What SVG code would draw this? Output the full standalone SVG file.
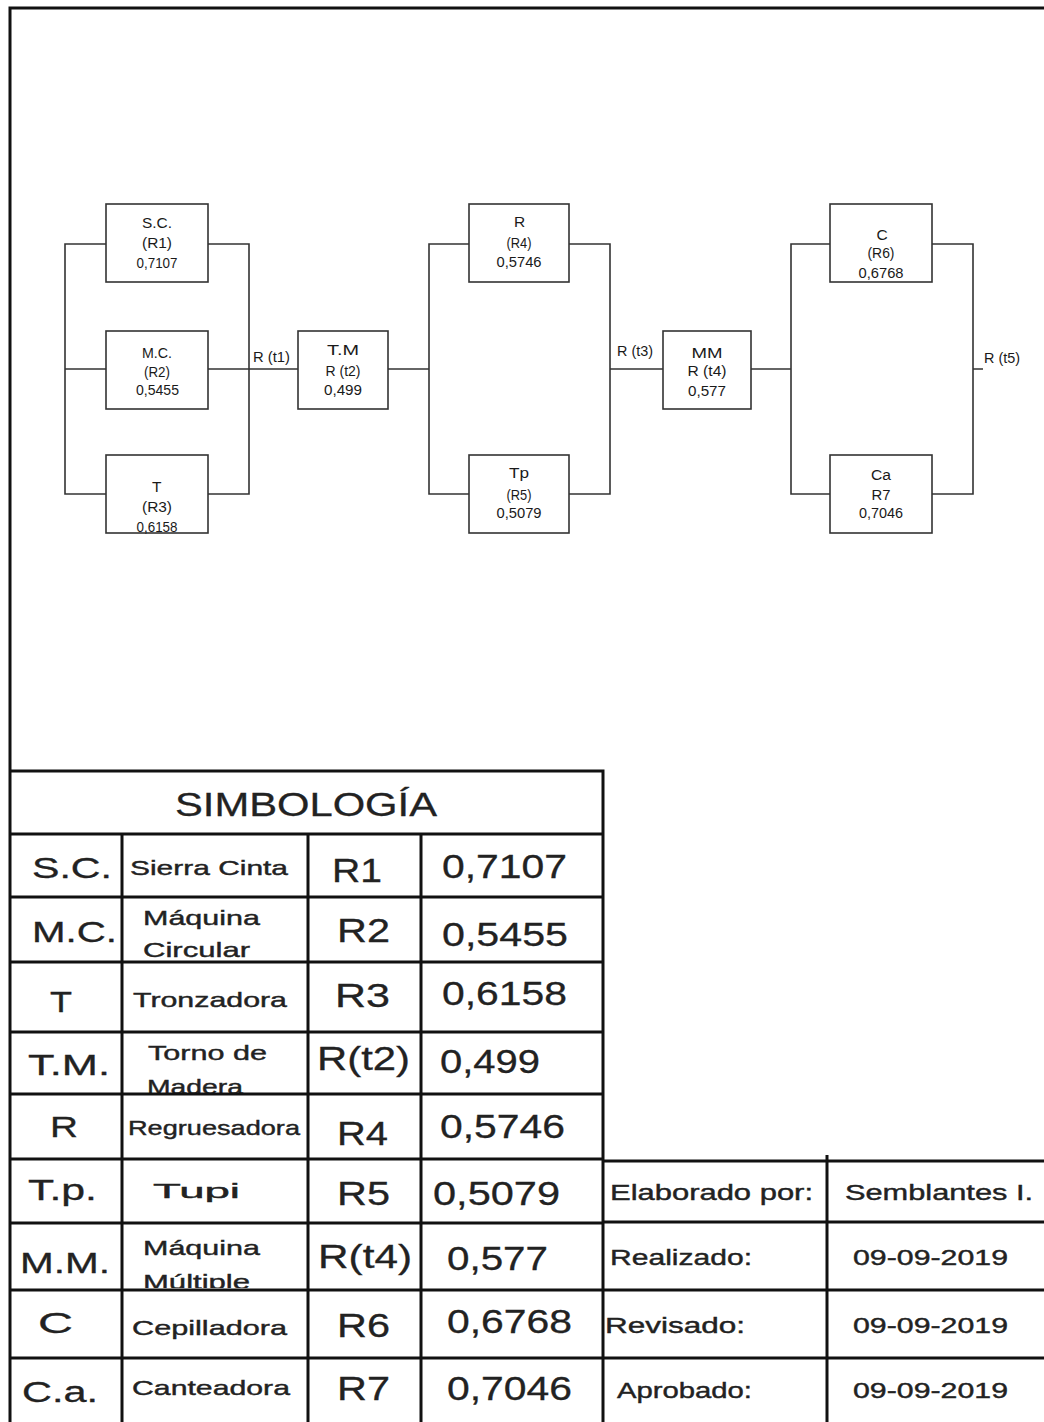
<svg xmlns="http://www.w3.org/2000/svg" width="1044" height="1422" viewBox="0 0 1044 1422">
<style>
.ln{stroke:#333;stroke-width:1.6;fill:none}
.box{fill:#fff;stroke:#333;stroke-width:1.6}
.dt{font-family:"Liberation Sans",Arial,sans-serif;font-size:15.5px;fill:#1a1a1a}
.grid{stroke:#111;stroke-width:3;fill:none}
.ab{font-family:"Liberation Sans",Arial,sans-serif;font-size:29px;fill:#222;stroke:#222;stroke-width:0.3}
.ds{font-family:"Liberation Sans",Arial,sans-serif;font-size:21px;fill:#222;stroke:#222;stroke-width:0.4}
.rv{font-family:"Liberation Sans",Arial,sans-serif;font-size:33px;fill:#222;stroke:#222;stroke-width:0.3}
.rt{font-family:"Liberation Sans",Arial,sans-serif;font-size:22px;fill:#222;stroke:#222;stroke-width:0.4}
</style>
<defs>
<clipPath id="c4"><rect x="123" y="1033" width="184" height="60"/></clipPath>
<clipPath id="c7"><rect x="123" y="1224" width="184" height="64"/></clipPath>
</defs>
<rect width="1044" height="1422" fill="#fff"/>
<g id="page-border">
<path class="grid" d="M10 1422 V8 H1044"/>
</g>
<g id="connectors">
<path class="ln" d="M106 244 H65 V494 H106 M65 369 H106"/>
<path class="ln" d="M208 244 H249 V494 H208 M208 369 H298"/>
<path class="ln" d="M388 369 H429"/>
<path class="ln" d="M469 244 H429 V494 H469"/>
<path class="ln" d="M569 244 H610 V494 H569 M610 369 H663"/>
<path class="ln" d="M751 369 H791"/>
<path class="ln" d="M830 244 H791 V494 H830"/>
<path class="ln" d="M932 244 H973 V494 H932 M973 369 H983"/>
<text class="dt" x="253" y="362" textLength="37" lengthAdjust="spacingAndGlyphs">R (t1)</text>
<text class="dt" x="617" y="356" textLength="36" lengthAdjust="spacingAndGlyphs">R (t3)</text>
<text class="dt" x="984" y="363" textLength="36" lengthAdjust="spacingAndGlyphs">R (t5)</text>
</g>
<g id="node-sc">
<rect class="box" x="106" y="204" width="102" height="78"/>
<text class="dt" x="142" y="228" textLength="30" lengthAdjust="spacingAndGlyphs">S.C.</text>
<text class="dt" x="142" y="248" textLength="30" lengthAdjust="spacingAndGlyphs">(R1)</text>
<text class="dt" x="136.5" y="268" textLength="41" lengthAdjust="spacingAndGlyphs">0,7107</text>
</g>
<g id="node-mc">
<rect class="box" x="106" y="331" width="102" height="78"/>
<text class="dt" x="142" y="358" textLength="30" lengthAdjust="spacingAndGlyphs">M.C.</text>
<text class="dt" x="144" y="377" textLength="26" lengthAdjust="spacingAndGlyphs">(R2)</text>
<text class="dt" x="136" y="395" textLength="43" lengthAdjust="spacingAndGlyphs">0,5455</text>
</g>
<g id="node-t">
<rect class="box" x="106" y="455" width="102" height="78"/>
<text class="dt" x="152" y="492">T</text>
<text class="dt" x="142" y="512" textLength="30" lengthAdjust="spacingAndGlyphs">(R3)</text>
<text class="dt" x="136.5" y="532" textLength="41" lengthAdjust="spacingAndGlyphs">0,6158</text>
</g>
<g id="node-tm">
<rect class="box" x="298" y="331" width="90" height="78"/>
<text class="dt" x="327" y="355" textLength="32" lengthAdjust="spacingAndGlyphs">T.M</text>
<text class="dt" x="325.5" y="376" textLength="35" lengthAdjust="spacingAndGlyphs">R (t2)</text>
<text class="dt" x="324" y="395" textLength="38" lengthAdjust="spacingAndGlyphs">0,499</text>
</g>
<g id="node-r">
<rect class="box" x="469" y="204" width="100" height="78"/>
<text class="dt" x="514" y="227">R</text>
<text class="dt" x="506.5" y="248" textLength="25" lengthAdjust="spacingAndGlyphs">(R4)</text>
<text class="dt" x="496.5" y="267" textLength="45" lengthAdjust="spacingAndGlyphs">0,5746</text>
</g>
<g id="node-tp">
<rect class="box" x="469" y="455" width="100" height="78"/>
<text class="dt" x="509" y="478" textLength="20" lengthAdjust="spacingAndGlyphs">Tp</text>
<text class="dt" x="506.5" y="500" textLength="25" lengthAdjust="spacingAndGlyphs">(R5)</text>
<text class="dt" x="496.5" y="518" textLength="45" lengthAdjust="spacingAndGlyphs">0,5079</text>
</g>
<g id="node-mm">
<rect class="box" x="663" y="331" width="88" height="78"/>
<text class="dt" x="691.5" y="358" textLength="31" lengthAdjust="spacingAndGlyphs">MM</text>
<text class="dt" x="687.5" y="376" textLength="39" lengthAdjust="spacingAndGlyphs">R (t4)</text>
<text class="dt" x="688" y="396" textLength="38" lengthAdjust="spacingAndGlyphs">0,577</text>
</g>
<g id="node-c">
<rect class="box" x="830" y="204" width="102" height="78"/>
<text class="dt" x="876.5" y="240">C</text>
<text class="dt" x="867.5" y="258" textLength="27" lengthAdjust="spacingAndGlyphs">(R6)</text>
<text class="dt" x="858.5" y="278" textLength="45" lengthAdjust="spacingAndGlyphs">0,6768</text>
</g>
<g id="node-ca">
<rect class="box" x="830" y="455" width="102" height="78"/>
<text class="dt" x="871" y="480" textLength="20" lengthAdjust="spacingAndGlyphs">Ca</text>
<text class="dt" x="871.5" y="500" textLength="19" lengthAdjust="spacingAndGlyphs">R7</text>
<text class="dt" x="859" y="518" textLength="44" lengthAdjust="spacingAndGlyphs">0,7046</text>
</g>
<g id="simbologia-table">
<text class="rv" x="175" y="816" textLength="262" lengthAdjust="spacingAndGlyphs">SIMBOLOGÍA</text>
<text class="ab" x="32" y="878" textLength="80" lengthAdjust="spacingAndGlyphs">S.C.</text>
<text class="ds" x="130" y="875" textLength="158" lengthAdjust="spacingAndGlyphs">Sierra Cinta</text>
<text class="rv" x="332" y="882" textLength="50" lengthAdjust="spacingAndGlyphs">R1</text>
<text class="rv" x="442" y="878" textLength="125" lengthAdjust="spacingAndGlyphs">0,7107</text>
<text class="ab" x="32" y="942" textLength="85" lengthAdjust="spacingAndGlyphs">M.C.</text>
<text class="ds" x="143" y="925" textLength="117" lengthAdjust="spacingAndGlyphs">Máquina</text>
<text class="ds" x="143" y="957" textLength="107" lengthAdjust="spacingAndGlyphs">Circular</text>
<text class="rv" x="337" y="942" textLength="53" lengthAdjust="spacingAndGlyphs">R2</text>
<text class="rv" x="442" y="946" textLength="126" lengthAdjust="spacingAndGlyphs">0,5455</text>
<text class="ab" x="50" y="1012" textLength="22" lengthAdjust="spacingAndGlyphs">T</text>
<text class="ds" x="133" y="1007" textLength="154" lengthAdjust="spacingAndGlyphs">Tronzadora</text>
<text class="rv" x="335" y="1007" textLength="55" lengthAdjust="spacingAndGlyphs">R3</text>
<text class="rv" x="442" y="1005" textLength="125" lengthAdjust="spacingAndGlyphs">0,6158</text>
<text class="ab" x="28" y="1075" textLength="82" lengthAdjust="spacingAndGlyphs">T.M.</text>
<text class="ds" x="148" y="1060" textLength="119" lengthAdjust="spacingAndGlyphs">Torno de</text>
<text class="ds" x="147" y="1094" textLength="96" lengthAdjust="spacingAndGlyphs" clip-path="url(#c4)">Madera</text>
<text class="rv" x="317" y="1070" textLength="93" lengthAdjust="spacingAndGlyphs">R(t2)</text>
<text class="rv" x="440" y="1073" textLength="100" lengthAdjust="spacingAndGlyphs">0,499</text>
<text class="ab" x="50" y="1137" textLength="28" lengthAdjust="spacingAndGlyphs">R</text>
<text class="ds" x="128" y="1135" textLength="172" lengthAdjust="spacingAndGlyphs">Regruesadora</text>
<text class="rv" x="337" y="1145" textLength="51" lengthAdjust="spacingAndGlyphs">R4</text>
<text class="rv" x="440" y="1138" textLength="125" lengthAdjust="spacingAndGlyphs">0,5746</text>
<text class="ab" x="28" y="1200" textLength="69" lengthAdjust="spacingAndGlyphs">T.p.</text>
<text class="ds" x="153" y="1198" textLength="87" lengthAdjust="spacingAndGlyphs">Tupi</text>
<text class="rv" x="337" y="1205" textLength="53" lengthAdjust="spacingAndGlyphs">R5</text>
<text class="rv" x="433" y="1205" textLength="127" lengthAdjust="spacingAndGlyphs">0,5079</text>
<text class="ab" x="20" y="1273" textLength="90" lengthAdjust="spacingAndGlyphs">M.M.</text>
<text class="ds" x="143" y="1255" textLength="117" lengthAdjust="spacingAndGlyphs">Máquina</text>
<text class="ds" x="143" y="1289" textLength="107" lengthAdjust="spacingAndGlyphs" clip-path="url(#c7)">Múltiple</text>
<text class="rv" x="318" y="1268" textLength="94" lengthAdjust="spacingAndGlyphs">R(t4)</text>
<text class="rv" x="447" y="1270" textLength="101" lengthAdjust="spacingAndGlyphs">0,577</text>
<text class="ab" x="38" y="1333" textLength="35" lengthAdjust="spacingAndGlyphs">C</text>
<text class="ds" x="132" y="1335" textLength="155" lengthAdjust="spacingAndGlyphs">Cepilladora</text>
<text class="rv" x="337" y="1337" textLength="53" lengthAdjust="spacingAndGlyphs">R6</text>
<text class="rv" x="447" y="1333" textLength="125" lengthAdjust="spacingAndGlyphs">0,6768</text>
<text class="ab" x="22" y="1402" textLength="76" lengthAdjust="spacingAndGlyphs">C.a.</text>
<text class="ds" x="132" y="1395" textLength="158" lengthAdjust="spacingAndGlyphs">Canteadora</text>
<text class="rv" x="337" y="1400" textLength="53" lengthAdjust="spacingAndGlyphs">R7</text>
<text class="rv" x="447" y="1400" textLength="125" lengthAdjust="spacingAndGlyphs">0,7046</text>
<path class="grid" d="M10 771 H603 V1422 M10 834 H603 M10 897 H603 M10 962 H603 M10 1032 H603 M10 1094 H603 M10 1159 H603 M10 1223 H603 M10 1290 H603 M10 1358 H603 M122 834 V1422 M308 834 V1422 M421 834 V1422"/>
</g>
<g id="signature-table">
<text class="rt" x="610" y="1200" textLength="203" lengthAdjust="spacingAndGlyphs">Elaborado por:</text>
<text class="rt" x="845" y="1200" textLength="188" lengthAdjust="spacingAndGlyphs">Semblantes I.</text>
<text class="rt" x="610" y="1265" textLength="142" lengthAdjust="spacingAndGlyphs">Realizado:</text>
<text class="rt" x="853" y="1265" textLength="155" lengthAdjust="spacingAndGlyphs">09-09-2019</text>
<text class="rt" x="605" y="1333" textLength="140" lengthAdjust="spacingAndGlyphs">Revisado:</text>
<text class="rt" x="853" y="1333" textLength="155" lengthAdjust="spacingAndGlyphs">09-09-2019</text>
<text class="rt" x="617" y="1398" textLength="135" lengthAdjust="spacingAndGlyphs">Aprobado:</text>
<text class="rt" x="853" y="1398" textLength="155" lengthAdjust="spacingAndGlyphs">09-09-2019</text>
<path class="grid" d="M603 1161 H1044 M603 1222 H1044 M603 1290 H1044 M603 1358 H1044 M827 1155 V1422"/>
</g>
</svg>
